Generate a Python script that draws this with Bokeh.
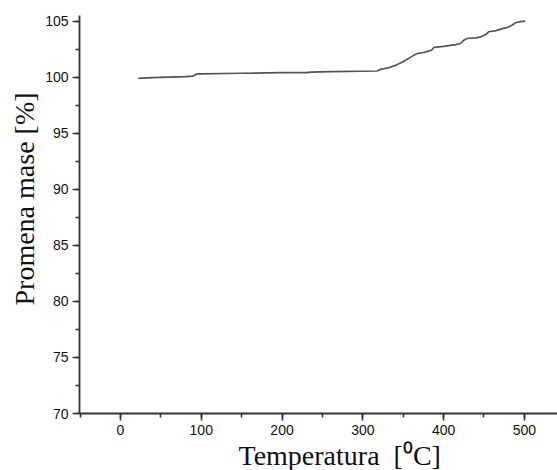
from bokeh.plotting import figure
from bokeh.models import SingleIntervalTicker, Range1d, Title
from bokeh.embed import file_html
from bokeh.resources import INLINE

temperature = [22, 40, 60, 80, 90, 95, 100, 150, 200, 231, 235, 260, 318, 322, 330, 342, 348, 355,
               362, 367, 375, 380, 385, 388, 400, 415, 421, 425, 429, 440, 446, 452, 456, 465,
               474, 480, 485, 489, 495, 501]
mass = [99.9, 99.95, 100.0, 100.05, 100.1, 100.3, 100.3, 100.35, 100.4, 100.4, 100.45, 100.5,
        100.55, 100.7, 100.8, 101.1, 101.3, 101.6, 101.9, 102.1, 102.2, 102.3, 102.4, 102.65,
        102.75, 102.9, 103.0, 103.3, 103.45, 103.5, 103.6, 103.8, 104.05, 104.15, 104.35,
        104.45, 104.65, 104.85, 104.95, 105.0]

y_title = "Promena mase [%]"
x_title = "Temperatura\u00a0 [⁰C]"

p = figure(width=557, height=470, output_backend="svg", toolbar_location=None,
           x_range=Range1d(-50.7, 541), y_range=Range1d(70, 105.5),
           min_border_left=79, min_border_right=0, min_border_top=15, min_border_bottom=0)
p.outline_line_color = None
p.xgrid.visible = False
p.ygrid.visible = False

p.line(temperature, mass, line_color="#555555", line_width=1.7)

p.xaxis.ticker = SingleIntervalTicker(interval=100, num_minor_ticks=2)
p.yaxis.ticker = SingleIntervalTicker(interval=5, num_minor_ticks=2)

for ax in (p.xaxis, p.yaxis):
    ax.axis_line_color = "#333333"
    ax.axis_line_width = 1.8
    ax.major_tick_line_color = "#333333"
    ax.major_tick_line_width = 1.6
    ax.minor_tick_line_color = "#333333"
    ax.minor_tick_line_width = 1.6
    ax.major_tick_in = 0
    ax.major_tick_out = 7
    ax.minor_tick_in = 0
    ax.minor_tick_out = 4
    ax.major_label_text_font = "Liberation Sans"
    ax.major_label_text_font_size = "14px"
    ax.major_label_text_color = "#111111"

p.xaxis.major_label_standoff = 4
p.yaxis.major_label_standoff = 4

serif = "Liberation Serif"
p.add_layout(Title(text=y_title, align="left", offset=108, standoff=5,
                   text_font=serif, text_font_size="28px", text_font_style="normal",
                   text_color="#111111"), "left")
p.add_layout(Title(text=x_title, align="left", offset=159, standoff=0,
                   text_font=serif, text_font_size="28px", text_font_style="normal",
                   text_color="#111111"), "below")

open("out.html", "w").write(file_html(p, INLINE))
